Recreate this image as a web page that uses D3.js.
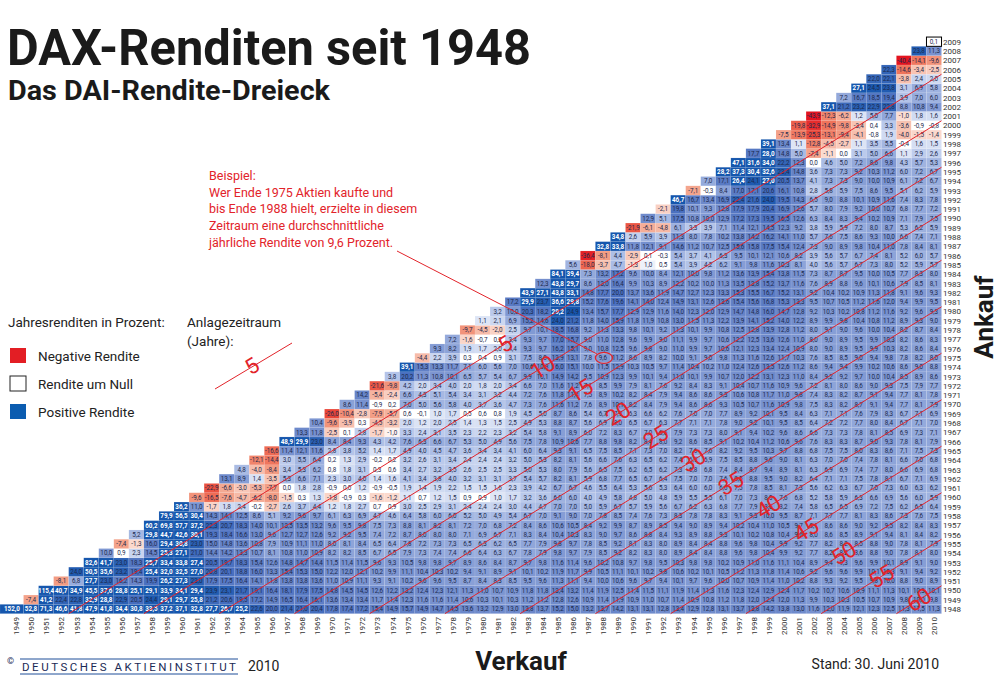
<!DOCTYPE html>
<html>
<head>
<meta charset="utf-8">
<script src="https://cdn.jsdelivr.net/npm/d3@7"></script>
<style>
body { margin: 0; background: #fff; }
svg text { font-family: Roboto, "Open Sans", sans-serif; }
</style>
</head>
<body>
<div id="chart"></div>
<script>
// Verkauf: sell years (columns)
var sellYears = [1949,1950,1951,1952,1953,1954,1955,1956,1957,1958,1959,1960,1961,1962,1963,1964,
  1965,1966,1967,1968,1969,1970,1971,1972,1973,1974,1975,1976,1977,1978,1979,1980,1981,1982,1983,
  1984,1985,1986,1987,1988,1989,1990,1991,1992,1993,1994,1995,1996,1997,1998,1999,2000,2001,2002,
  2003,2004,2005,2006,2007,2008,2009,2010];

// Ankauf: buy years (rows)
var buyYears = [1948,1949,1950,1951,1952,1953,1954,1955,1956,1957,1958,1959,1960,1961,1962,1963,
  1964,1965,1966,1967,1968,1969,1970,1971,1972,1973,1974,1975,1976,1977,1978,1979,1980,1981,1982,
  1983,1984,1985,1986,1987,1988,1989,1990,1991,1992,1993,1994,1995,1996,1997,1998,1999,2000,2001,
  2002,2003,2004,2005,2006,2007,2008,2009];

// yearly return in % for each sell year
var annualReturns = [152.0,-7.4,115.4,-8.1,24.0,82.6,10.0,-7.4,5.2,60.2,79.9,36.2,-9.6,-22.9,13.1,4.8,
  -12.1,-16.6,48.9,13.3,10.4,-26.0,8.6,14.2,-21.6,3.8,39.1,-4.4,9.3,7.2,-9.7,1.1,3.2,17.2,43.9,
  12.3,84.1,5.6,-36.4,32.8,34.8,-21.9,12.9,-2.1,46.7,-7.1,7.0,28.2,47.1,17.7,39.1,-7.5,-19.8,-43.9,
  37.1,7.2,27.1,22.0,22.3,-40.4,23.8,0.1];

// holding periods drawn as red lines
var periods = [5,10,15,20,25,30,35,40,45,50,55,60];

var legendLabels = ["Negative Rendite", "Rendite um Null", "Positive Rendite"];
var legendColors = ["#e31e24", "#ffffff", "#0b5cb0"];

var noteLines = ["Beispiel:", "Wer Ende 1975 Aktien kaufte und", "bis Ende 1988 hielt, erzielte in diesem",
  "Zeitraum eine durchschnittliche", "jährliche Rendite von 9,6 Prozent."];
var noteBuy = 1975, noteSell = 1988;

var red = "#e2232a";

var svg = d3.select("#chart").append("svg")
  .attr("width", 1006).attr("height", 691);

var x = d3.scaleLinear().domain([1949, 2010]).range([16, 934]);
var y = d3.scaleLinear().domain([1948, 2009]).range([609, 41.7]);
var cw = x(1950) - x(1949);
var ch = y(1948) - y(1949);

// average yearly return from end of buy year to end of sell year
var cells = [];
buyYears.forEach(function(b) {
  var growth = 1;
  sellYears.forEach(function(s, j) {
    if (s <= b) return;
    growth *= 1 + annualReturns[j] / 100;
    var v = (Math.pow(growth, 1 / (s - b)) - 1) * 100;
    if (Math.abs(v) < 0.05) v = 0;
    cells.push({buy: b, sell: s, value: v});
  });
});

var color = d3.scaleLinear()
  .domain([-40, -25, -15, -8, -3, -1, -0.95, 0.95, 1, 3, 6, 10, 15, 20, 25])
  .range(["#e3141f", "#e9493a", "#ef7259", "#f39d84", "#f8c7b7", "#fbdcd1", "#ffffff", "#ffffff",
    "#dfe6f6", "#bccbec", "#9db1df", "#7f98d3", "#6482c7", "#4a70c0", "#1556ad"])
  .clamp(true);

var fmt = d3.formatLocale({decimal: ",", thousands: ".", grouping: [3], currency: ["", ""], minus: "-"}).format(".1f");

var grid = svg.append("g");

grid.selectAll("rect")
  .data(cells)
  .enter()
  .append("rect")
  .attr("x", d => d.sell === 1949 ? 0 : x(d.sell) - cw / 2)
  .attr("y", d => y(d.buy) - ch / 2)
  .attr("width", d => d.sell === 1949 ? x(d.sell) + cw / 2 : cw)
  .attr("height", ch)
  .attr("fill", d => color(d.value))
  .attr("stroke", "#fff")
  .attr("stroke-opacity", 0.18)
  .attr("stroke-width", 0.5);

grid.selectAll("text")
  .data(cells)
  .enter()
  .append("text")
  .attr("x", d => d.sell === 1949 ? x(d.sell) - 4 : x(d.sell))
  .attr("y", d => y(d.buy))
  .attr("dy", "0.35em")
  .attr("text-anchor", "middle")
  .attr("font-size", 6.3)
  .attr("font-weight", d => d.value >= 25 ? "bold" : "normal")
  .attr("fill", d => d.value >= 25 ? "#fff" : "#1d2a4d")
  .text(d => fmt(d.value));

// latest cell gets a frame
svg.append("rect")
  .attr("x", x(2010) - cw / 2)
  .attr("y", y(2009) - ch / 2)
  .attr("width", cw)
  .attr("height", ch)
  .attr("fill", "none")
  .attr("stroke", "#000")
  .attr("stroke-width", 1);

// lines of equal holding period
var lines = svg.append("g");
periods.forEach(function(n) {
  lines.append("line")
    .attr("x1", x(1947.5 + n)).attr("y1", y(1947.5))
    .attr("x2", x(2010.5)).attr("y2", y(2010.5 - n))
    .attr("stroke", red).attr("stroke-width", 1);
});
var angle = Math.atan2(ch, cw) * 180 / Math.PI;
lines.selectAll("text")
  .data(periods)
  .enter()
  .append("text")
  .attr("transform", n => `translate(${x(1979 - n / 2 + n)},${y(1979 - n / 2)}) rotate(${-angle})`)
  .attr("dy", "0.35em")
  .attr("text-anchor", "middle")
  .attr("font-size", 22)
  .attr("fill", red)
  .text(n => n);

// example annotation
svg.append("ellipse")
  .attr("cx", x(noteSell) + 1).attr("cy", y(noteBuy))
  .attr("rx", 8.5).attr("ry", 5.5)
  .attr("fill", "none").attr("stroke", red).attr("stroke-width", 1.3);
svg.append("line")
  .attr("x1", 397).attr("y1", 251)
  .attr("x2", x(noteSell) - 6).attr("y2", y(noteBuy) - 4)
  .attr("stroke", red).attr("stroke-width", 1);
svg.append("g").selectAll("text")
  .data(noteLines)
  .enter()
  .append("text")
  .attr("x", 209)
  .attr("y", (d, i) => 180 + i * 16.7)
  .attr("font-size", 12.5)
  .attr("fill", red)
  .text(d => d);

// axes
var xAxis = d3.axisBottom(x).tickValues(sellYears).tickSize(0).tickFormat(d3.format("d"));
svg.append("g")
  .attr("transform", "translate(0,614)")
  .call(xAxis)
  .call(g => g.select(".domain").remove())
  .selectAll("text")
  .attr("font-family", "Roboto, sans-serif")
  .attr("font-size", 8)
  .attr("fill", "#333")
  .attr("x", -3)
  .attr("y", 0)
  .attr("dy", "0.35em")
  .attr("transform", "rotate(-90)")
  .style("text-anchor", "end");

var yAxis = d3.axisRight(y).tickValues(buyYears).tickSize(0).tickPadding(0).tickFormat(d3.format("d"));
svg.append("g")
  .attr("transform", "translate(943,0)")
  .call(yAxis)
  .call(g => g.select(".domain").remove())
  .selectAll("text")
  .attr("font-family", "Roboto, sans-serif")
  .attr("font-size", 8)
  .attr("fill", "#333");

// titles
svg.append("text")
  .attr("x", 7).attr("y", 65)
  .attr("font-size", 50).attr("font-weight", "bold").attr("fill", "#1a1a1a")
  .attr("textLength", 524).attr("lengthAdjust", "spacingAndGlyphs")
  .text("DAX-Renditen seit 1948");
svg.append("text")
  .attr("x", 8).attr("y", 100)
  .attr("font-size", 27).attr("font-weight", "bold").attr("fill", "#1a1a1a")
  .attr("textLength", 322).attr("lengthAdjust", "spacingAndGlyphs")
  .text("Das DAI-Rendite-Dreieck");

svg.append("text")
  .attr("transform", "translate(993,317) rotate(-90)")
  .attr("text-anchor", "middle")
  .attr("font-size", 26).attr("font-weight", "bold").attr("fill", "#1a1a1a")
  .text("Ankauf");
svg.append("text")
  .attr("x", 521).attr("y", 670)
  .attr("text-anchor", "middle")
  .attr("font-size", 26).attr("font-weight", "bold").attr("fill", "#1a1a1a")
  .text("Verkauf");

// legend
svg.append("text").attr("x", 8).attr("y", 327).attr("font-size", 13.5).attr("fill", "#222")
  .text("Jahresrenditen in Prozent:");
svg.append("text").attr("x", 187).attr("y", 327).attr("font-size", 13.5).attr("fill", "#222")
  .text("Anlagezeitraum");
svg.append("text").attr("x", 187).attr("y", 346).attr("font-size", 13.5).attr("fill", "#222")
  .text("(Jahre):");
var leg = svg.append("g").selectAll("g")
  .data(legendLabels)
  .enter()
  .append("g")
  .attr("transform", (d, i) => `translate(10,${348 + i * 28})`);
leg.append("rect")
  .attr("width", 16).attr("height", 15)
  .attr("fill", (d, i) => legendColors[i])
  .attr("stroke", (d, i) => i === 1 ? "#222" : "none");
leg.append("text")
  .attr("x", 28).attr("y", 13)
  .attr("font-size", 13.5).attr("fill", "#222")
  .text(d => d);
svg.append("line")
  .attr("x1", 215).attr("y1", 389).attr("x2", 292).attr("y2", 343)
  .attr("stroke", red).attr("stroke-width", 1);
svg.append("text")
  .attr("transform", `translate(252,366) rotate(${-angle})`)
  .attr("dy", "0.35em").attr("text-anchor", "middle")
  .attr("font-size", 22).attr("fill", red)
  .text("5");

// footer
svg.append("text").attr("x", 7).attr("y", 664).attr("font-size", 9).attr("fill", "#1b2a55").text("©");
svg.append("line").attr("x1", 20).attr("x2", 238).attr("y1", 659).attr("y2", 659)
  .attr("stroke", "#1f4e99").attr("stroke-width", 1);
svg.append("line").attr("x1", 20).attr("x2", 238).attr("y1", 674).attr("y2", 674)
  .attr("stroke", "#1f4e99").attr("stroke-width", 1);
svg.append("text").attr("x", 22).attr("y", 671)
  .attr("font-family", "'Liberation Serif', 'DejaVu Serif', serif")
  .attr("font-size", 11.5).attr("fill", "#1b2a55")
  .attr("textLength", 214).attr("lengthAdjust", "spacing")
  .text("DEUTSCHES AKTIENINSTITUT");
svg.append("text").attr("x", 248).attr("y", 671).attr("font-size", 14).attr("fill", "#222").text("2010");
svg.append("text").attr("x", 939).attr("y", 669).attr("text-anchor", "end")
  .attr("font-size", 14).attr("fill", "#222").text("Stand: 30. Juni 2010");
</script>
</body>
</html>
